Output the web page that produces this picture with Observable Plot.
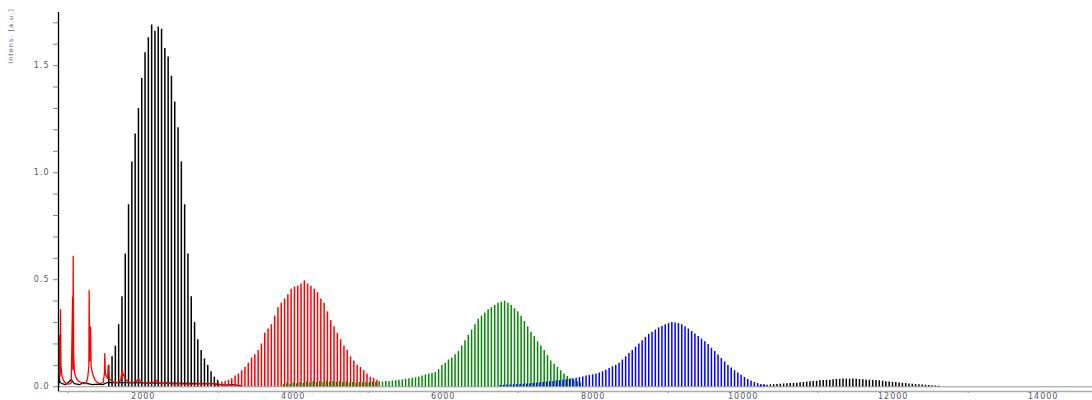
<!DOCTYPE html>
<html><head><meta charset="utf-8">
<script src="https://cdn.jsdelivr.net/npm/d3@7"></script>
<script src="https://cdn.jsdelivr.net/npm/@observablehq/plot@0.6"></script>
<style>
body{margin:0;background:#fff}
#chart svg text{letter-spacing:1px}
</style></head>
<body><div id="chart"></div>
<script>
// ---- tick labels ----
const xTickLabels = [2000, 4000, 6000, 8000, 10000, 12000, 14000];
const xMinorTicks = [1000, 3000, 5000, 7000, 9000, 11000, 13000];
const yTickLabels = [0, 0.5, 1.0, 1.5];
const yMinorTicks = [0.1,0.2,0.3,0.4,0.6,0.7,0.8,0.9,1.1,1.2,1.3,1.4,1.6,1.7];

// ---- peak series: first m/z, spacing, intensities ----
const blackMainStart = 1540, blackMainStep = 44;
const blackMainI = [0.10,0.14,0.19,0.29,0.42,0.62,0.85,1.05,1.18,1.30,1.44,1.56,1.63,1.69,1.66,1.68,1.67,1.58,1.54,1.45,1.33,1.21,1.05,0.85,0.62,0.42,0.30,0.22,0.17,0.13,0.10,0.07,0.045,0.03];

const redDistStart = 2960, redDistStep = 44;
const redDistI = [0.015,0.018,0.022,0.026,0.03,0.038,0.05,0.06,0.075,0.09,0.11,0.135,0.15,0.17,0.2,0.25,0.27,0.29,0.33,0.37,0.39,0.41,0.43,0.455,0.465,0.47,0.48,0.495,0.48,0.47,0.455,0.44,0.41,0.39,0.35,0.31,0.28,0.25,0.22,0.19,0.17,0.14,0.12,0.10,0.09,0.075,0.06,0.045,0.04,0.03];

const greenStart = 3870, greenStep = 44;
const greenI = [0.01,0.015,0.012,0.018,0.014,0.02,0.016,0.022,0.018,0.024,
0.02,0.025,0.02,0.026,0.022,0.025,0.02,0.024,0.02,0.022,
0.018,0.02,0.018,0.02,0.019,0.021,0.02,0.022,0.021,0.023,
0.022,0.025,0.024,0.027,0.028,0.03,0.032,0.035,0.037,0.04,
0.042,0.045,0.05,0.055,0.06,0.062,0.067,0.08,0.1,0.11,
0.125,0.135,0.15,0.165,0.19,0.215,0.24,0.265,0.29,0.315,
0.33,0.345,0.36,0.37,0.38,0.39,0.395,0.40,0.39,0.38,
0.365,0.35,0.33,0.305,0.28,0.255,0.235,0.21,0.19,0.17,
0.145,0.12,0.105,0.09,0.075,0.06,0.048,0.037,0.03,0.024,
0.018];

const blueStart = 6760, blueStep = 44;
const blueI = [0.006,0.007,0.008,0.008,0.009,0.01,0.011,0.012,0.013,0.014,
0.016,0.017,0.019,0.02,0.022,0.024,0.025,0.027,0.029,0.031,
0.033,0.035,0.037,0.04,0.043,0.046,0.05,0.053,0.056,0.06,
0.064,0.07,0.077,0.085,0.093,0.1,0.11,0.125,0.14,0.155,
0.17,0.185,0.2,0.215,0.23,0.245,0.255,0.265,0.275,0.283,
0.29,0.295,0.30,0.298,0.295,0.29,0.28,0.27,0.258,0.247,
0.235,0.222,0.21,0.197,0.18,0.165,0.148,0.132,0.116,0.1,
0.088,0.075,0.064,0.054,0.044,0.035,0.027,0.02,0.015,0.011,
0.008];

const black2Start = 10230, black2Step = 44;
const black2I = [0.006,0.008,0.007,0.009,0.01,0.011,0.012,0.013,0.014,0.015,
0.016,0.017,0.019,0.02,0.022,0.023,0.025,0.026,0.028,0.029,
0.03,0.031,0.033,0.034,0.035,0.036,0.036,0.035,0.036,0.035,
0.034,0.033,0.032,0.031,0.03,0.029,0.028,0.026,0.024,0.022,
0.021,0.02,0.018,0.016,0.015,0.013,0.012,0.01,0.009,0.008,
0.007,0.006,0.005,0.004,0.003];

// ---- low-mass traces (m/z, intensity) ----
const redLowMz = [870,882,886,893,897,903,912,925,945,975,1010,1040,1058,1062,1066,1072,1082,1095,1115,1140,1170,1210,1240,1262,1275,1279,1285,1297,1305,1318,1335,1360,1390,1430,1465,1482,1487,1495,1510,1525,1533,1540,1555,1580,1620,1660,1700,1719,1725,1740,1755,1780,1820,1870,1910,1937,1950,1980,2030,2080,2120,2186,2200,2260,2330,2400,2470,2540,2610,2680,2750,2820,2890,2950];
const redLowI  = [0.02,0.12,0.24,0.05,0.36,0.1,0.06,0.04,0.025,0.015,0.012,0.018,0.42,0.08,0.61,0.15,0.07,0.05,0.035,0.025,0.02,0.015,0.015,0.05,0.1,0.45,0.12,0.28,0.1,0.07,0.05,0.03,0.02,0.015,0.02,0.06,0.155,0.06,0.05,0.04,0.10,0.05,0.035,0.025,0.02,0.02,0.03,0.08,0.05,0.06,0.04,0.03,0.02,0.02,0.025,0.04,0.03,0.02,0.018,0.02,0.018,0.03,0.02,0.015,0.018,0.012,0.015,0.012,0.014,0.012,0.015,0.013,0.015,0.015];

const blackLowMz = [870,880,890,920,960,1000,1040,1080,1150,1200,1260,1320,1400,1460,1520,2950,3000,3100,3200,3300];
const blackLowI  = [0.0,0.05,0.02,0.015,0.01,0.02,0.035,0.015,0.01,0.02,0.015,0.01,0.012,0.01,0.02,0.015,0.01,0.008,0.01,0.005];

// ---- tables ----
const peaks = (start, step, vals) => vals.map((h, i) => ({mz: start + i * step, h}));
const pairs = (mz, vals) => mz.map((m, i) => ({mz: m, h: vals[i]}));
const blackMain = peaks(blackMainStart, blackMainStep, blackMainI);
const redDist = peaks(redDistStart, redDistStep, redDistI);
const green = peaks(greenStart, greenStep, greenI);
const blue = peaks(blueStart, blueStep, blueI);
const black2 = peaks(black2Start, black2Step, black2I);
const redLow = pairs(redLowMz, redLowI);
const blackLow = pairs(blackLowMz, blackLowI);

const RED = "#ff0000", GREEN = "#008a00", BLUE = "#0000ff", BLACK = "#000000";
const yMin = -0.022;
const SW = 1.5;

const plot = Plot.plot({
  width: 1092, height: 400,
  marginLeft: 58, marginRight: 0, marginTop: 12, marginBottom: 9,
  style: {fontFamily: "DejaVu Sans", fontSize: "8px", background: "#fff"},
  x: {domain: [870, 14657], label: null},
  y: {domain: [yMin, 1.748], label: null},
  marks: [
    Plot.ruleY([0], {stroke: "#777", strokeWidth: 0.8}),
    Plot.line(blackLow, {x: "mz", y: "h", stroke: BLACK, strokeWidth: 1.2}),
    Plot.ruleX(blackMain, {x: "mz", y1: 0, y2: "h", stroke: BLACK, strokeWidth: SW}),
    Plot.ruleX(black2, {x: "mz", y1: 0, y2: "h", stroke: BLACK, strokeWidth: SW}),
    Plot.line(redLow, {x: "mz", y: "h", stroke: RED, strokeWidth: 1.3}),
    Plot.ruleX(redDist, {x: "mz", y1: 0, y2: "h", stroke: RED, strokeWidth: SW}),
    Plot.ruleX(green, {x: "mz", y1: 0, y2: "h", stroke: GREEN, strokeWidth: SW}),
    Plot.ruleX(blue, {x: "mz", y1: 0, y2: "h", stroke: BLUE, strokeWidth: SW}),
    Plot.axisX({ticks: xTickLabels, tickSize: 2, tickPadding: 0, tickFormat: d => String(d), stroke: "#888", fill: "#556"}),
    Plot.axisX({ticks: xMinorTicks, tickSize: 2, tickFormat: () => "", stroke: "#888"}),
    Plot.axisY({ticks: yMinorTicks, tickSize: 5, tickFormat: () => "", stroke: "#888"}),
    Plot.axisY({ticks: yTickLabels, tickSize: 5, tickPadding: 4, tickFormat: d3.format(".1f"), stroke: "#888", fill: "#556"}),
    Plot.ruleY([yMin], {stroke: "#aaa", strokeWidth: 1.6}),
    Plot.ruleX([870], {stroke: BLACK, strokeWidth: 1.3})
  ]
});
document.getElementById("chart").appendChild(plot);

d3.select(plot).append("text")
  .attr("transform", "translate(13,36) rotate(-90)")
  .attr("font-size", 6.5)
  .attr("letter-spacing", 0)
  .attr("fill", "#667")
  .text("Intens. [a.u.]");
</script>
</body></html>
